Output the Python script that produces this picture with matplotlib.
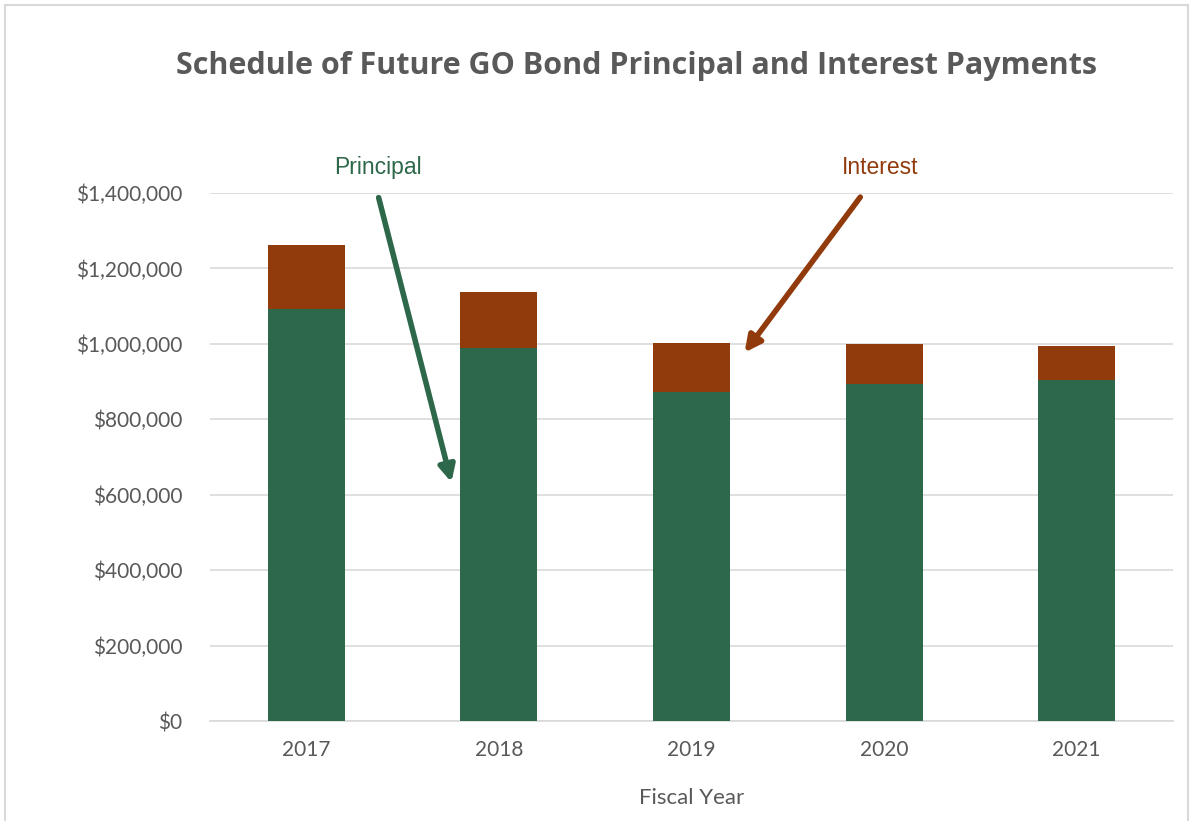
import matplotlib
matplotlib.use("Agg")
import matplotlib.pyplot as plt
from matplotlib.patches import Rectangle
from matplotlib.ticker import FuncFormatter, MultipleLocator

years = ["2017", "2018", "2019", "2020", "2021"]
principal = [1093000, 989000, 873000, 894000, 905000]
interest = [170000, 149000, 130000, 106000, 90000]

green = "#2e684a"
brown = "#913b0d"
gray = "#595959"

fig = plt.figure(figsize=(11.95, 8.21), dpi=100)
ax = fig.add_axes([210/1195, 100/821, 963/1195, 528/821])

x = list(range(len(years)))
ax.bar(x, principal, width=0.4, color=green, zorder=3)
ax.bar(x, interest, width=0.4, bottom=principal, color=brown, zorder=3)

ax.set_xlim(-0.5, len(years) - 0.5)
ax.set_ylim(0, 1400000)
ax.yaxis.set_major_locator(MultipleLocator(200000))
ax.yaxis.set_major_formatter(FuncFormatter(lambda v, p: f"${v:,.0f}"))
ax.set_xticks(x)
ax.set_xticklabels(years)
ax.grid(axis="y", color="#d9d9d9", lw=1.2, zorder=0)
for s in ["top", "right", "left"]:
    ax.spines[s].set_visible(False)
ax.spines["bottom"].set_color("#d9d9d9")
ax.spines["bottom"].set_linewidth(1.2)
ax.tick_params(axis="both", length=0, colors=gray, labelsize=15)
for lbl in ax.get_xticklabels() + ax.get_yticklabels():
    lbl.set_fontfamily("Lato")
ax.tick_params(axis="y", pad=20)
ax.tick_params(axis="x", pad=14)
ax.set_xlabel("Fiscal Year", fontsize=16, color=gray, family="Lato", labelpad=20)

fig.text(636/1195, 1 - 66/821, "Schedule of Future GO Bond Principal and Interest Payments",
         ha="center", va="center", fontsize=22, fontweight="bold", color=gray,
         family="Open Sans")

ax.annotate("", xy=(0.757, 626000), xytext=(0.372, 1395000),
            arrowprops=dict(arrowstyle="-|>", color=green, lw=4, mutation_scale=24),
            annotation_clip=False, zorder=5)
ax.text(0.372, 1468000, "Principal", ha="center", va="center", fontsize=16.5,
        color=green, family="Liberation Sans", clip_on=False)
ax.annotate("", xy=(2.267, 971000), xytext=(2.885, 1395000),
            arrowprops=dict(arrowstyle="-|>", color=brown, lw=4, mutation_scale=24),
            annotation_clip=False, zorder=5)
ax.text(2.979, 1468000, "Interest", ha="center", va="center", fontsize=16.5,
        color=brown, family="Liberation Sans", clip_on=False)

fig.patches.append(Rectangle((5/1195, -0.05), 1183/1195, 1.05 - 5/821,
                             transform=fig.transFigure, fill=False,
                             edgecolor="#d9d9d9", lw=1.5))

fig.savefig("out.png", dpi=100)
